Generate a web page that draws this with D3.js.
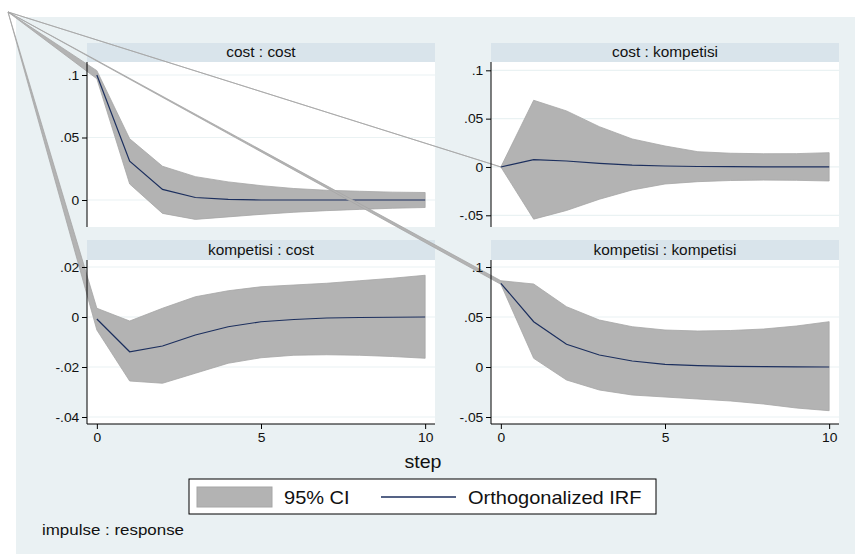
<!DOCTYPE html>
<html>
<head>
<meta charset="utf-8">
<script src="https://cdn.jsdelivr.net/npm/d3@7"></script>
<style>
	body{margin:0;background:#fff;}
	svg{display:block;font-family:'Liberation Sans',Arial,sans-serif;}
</style>
</head>
<body>
<svg id="chart" width="855" height="554"></svg>
<script>
// impulse response values, steps 0..10
const steps = [0,1,2,3,4,5,6,7,8,9,10]

const costCostIrf   = [0.1, 0.031, 0.0085, 0.002, 0.0005, 0, 0, 0, 0, 0, 0]
const costCostLo    = [0.097, 0.0128, -0.0107, -0.0155, -0.0135, -0.0115, -0.0098, -0.0085, -0.0075, -0.0066, -0.006]
const costCostHi    = [0.1035, 0.049, 0.027, 0.0187, 0.0145, 0.0115, 0.0092, 0.0078, 0.007, 0.0063, 0.006]

const costKompIrf   = [0, 0.0076, 0.0062, 0.0038, 0.002, 0.001, 0.0005, 0.0003, 0, 0, 0]
const costKompLo    = [0, -0.054, -0.045, -0.0334, -0.0238, -0.0176, -0.0152, -0.014, -0.0136, -0.0138, -0.0145]
const costKompHi    = [0, 0.069, 0.058, 0.0417, 0.029, 0.0217, 0.0158, 0.0142, 0.0137, 0.0138, 0.0148]

const kompCostIrf   = [-0.0008, -0.0139, -0.0116, -0.0072, -0.0039, -0.0019, -0.001, -0.0004, -0.0002, -0.0001, 0]
const kompCostLo    = [-0.0052, -0.0256, -0.0265, -0.0225, -0.0185, -0.0163, -0.0153, -0.0151, -0.0153, -0.0158, -0.0165]
const kompCostHi    = [0.0035, -0.0016, 0.0035, 0.0081, 0.0105, 0.0121, 0.0128, 0.0135, 0.0145, 0.0155, 0.0167]

const kompKompIrf   = [0.0837, 0.0453, 0.0227, 0.012, 0.006, 0.0027, 0.0013, 0.0006, 0.0003, 0.0001, 0]
const kompKompLo    = [0.0827, 0.0087, -0.013, -0.023, -0.028, -0.03, -0.032, -0.034, -0.037, -0.041, -0.0437]
const kompKompHi    = [0.0863, 0.083, 0.0603, 0.047, 0.0403, 0.037, 0.036, 0.0365, 0.038, 0.041, 0.0453]

const panelTitles = ['cost : cost','cost : kompetisi','kompetisi : cost','kompetisi : kompetisi']
const yTicks = [
	[0, 0.05, 0.1],
	[-0.05, 0, 0.05, 0.1],
	[-0.04, -0.02, 0, 0.02],
	[-0.05, 0, 0.05, 0.1]
]
const yDomains = [
	[-0.0216, 0.1104],
	[-0.0621, 0.1086],
	[-0.0428, 0.0228],
	[-0.057, 0.107]
]
const xTicks = [0, 5, 10]
const legendLabels = ['95% CI','Orthogonalized IRF']

const colors = {
	outer:'#eaf1f3',
	strip:'#d9e4eb',
	grid:'#eaf2f3',
	band:'#b3b3b3',
	bandEdge:'#a6a6a6',
	irf:'#1c2f5e'
}

// the source picture is a little wider than stata drew it
const stretch = 1.1

// stata draws every band polygon starting from the corner of the graph
const strayOrigin = [8, 12]

const panelBoxes = [
	{left:87, right:435, stripTop:43, top:62, bottom:227, xAxis:false},
	{left:491, right:839, stripTop:43, top:62, bottom:227, xAxis:false},
	{left:87, right:435, stripTop:240, top:260, bottom:424, xAxis:true},
	{left:491, right:839, stripTop:240, top:260, bottom:424, xAxis:true}
]

const series = [
	{irf:costCostIrf, lo:costCostLo, hi:costCostHi},
	{irf:costKompIrf, lo:costKompLo, hi:costKompHi},
	{irf:kompCostIrf, lo:kompCostLo, hi:kompCostHi},
	{irf:kompKompIrf, lo:kompKompLo, hi:kompKompHi}
]

const fmt = (v)=>{
	if(v == 0) return '0'
	let s = (+v.toFixed(4)).toString()
	return s.replace(/^(-?)0\./,'$1.')
}

const label = (parent, txt, x, y, size, anchor)=>{
	return parent.append('text')
		.text(txt)
		.attr('transform',`translate(${x},${y}) scale(${stretch},1)`)
		.attr('text-anchor',anchor || 'start')
		.attr('font-size',`${size}px`)
		.attr('fill','#111')
}

const svg = d3.select('#chart')

svg.append('rect')
	.attr('x',16).attr('y',17)
	.attr('width',855 - 16).attr('height',554 - 17)
	.attr('fill',colors.outer)

panelBoxes.forEach((b, i)=>{
	let d = series[i]
	let g = svg.append('g').classed('panel',true)

	const x = d3.scaleLinear().domain([-0.3, 10.3]).range([b.left, b.right])
	const y = d3.scaleLinear().domain(yDomains[i]).range([b.bottom, b.top])

	// plot region + title strip
	g.append('rect')
		.attr('x',b.left).attr('y',b.top)
		.attr('width',b.right - b.left).attr('height',b.bottom - b.top)
		.attr('fill','#fff')

	g.append('rect')
		.attr('x',b.left).attr('y',b.stripTop)
		.attr('width',b.right - b.left).attr('height',b.top - b.stripTop)
		.attr('fill',colors.strip)

	label(g, panelTitles[i], (b.left + b.right) / 2, b.top - 5, 14, 'middle')

	g.selectAll('.grid')
		.data(yTicks[i])
		.enter()
		.append('line')
		.attr('x1',b.left).attr('x2',b.right)
		.attr('y1',v => y(v)).attr('y2',v => y(v))
		.attr('stroke',colors.grid)
		.attr('stroke-width',1.2)

	// CI band, closed back to the stray corner point
	let upper = steps.map((s, k) => [x(s), y(d.hi[k])])
	let lower = steps.map((s, k) => [x(s), y(d.lo[k])]).reverse()
	let pts = [strayOrigin].concat(upper, lower)

	g.append('path')
		.attr('d', d3.line()(pts) + 'Z')
		.attr('fill',colors.band)
		.attr('stroke',colors.bandEdge)
		.attr('stroke-width',0.8)
		.attr('stroke-linejoin','round')

	g.append('path')
		.attr('d', d3.line().x(s => x(s)).y((s, k) => y(d.irf[k]))(steps))
		.attr('fill','none')
		.attr('stroke',colors.irf)
		.attr('stroke-width',1.2)

	const axisY = g.append('g')
		.attr('transform',`translate(${b.left},0)`)
		.call(d3.axisLeft(y).tickValues(yTicks[i]).tickFormat(fmt).tickSize(5).tickSizeOuter(0).tickPadding(2))
	axisY.select('.domain').attr('d',`M0,${b.top}V${b.bottom}`).attr('stroke','#000')
	axisY.selectAll('text')
		.attr('font-size','12.6px')
		.attr('font-family','Liberation Sans, Arial, sans-serif')
		.attr('fill','#111')
		.attr('transform',`scale(${stretch},1)`)

	if(b.xAxis){
		const axisX = g.append('g')
			.attr('transform',`translate(0,${b.bottom})`)
			.call(d3.axisBottom(x).tickValues(xTicks).tickSize(5).tickSizeOuter(0).tickPadding(4))
		axisX.select('.domain').attr('d',`M${b.left},0H${b.right}`).attr('stroke','#000')
		axisX.selectAll('text')
			.attr('font-size','12.6px')
			.attr('font-family','Liberation Sans, Arial, sans-serif')
			.attr('fill','#111')
			.attr('transform',`scale(${stretch},1)`)
	}
})

label(svg, 'step', 423, 468, 17.8, 'middle')

// legend
const legend = svg.append('g')
legend.append('rect')
	.attr('x',189).attr('y',479).attr('width',467).attr('height',35)
	.attr('fill','#fff').attr('stroke','#000').attr('stroke-width',1)
legend.append('rect')
	.attr('x',197).attr('y',487).attr('width',75).attr('height',20)
	.attr('fill',colors.band).attr('stroke',colors.bandEdge).attr('stroke-width',1)
label(legend, legendLabels[0], 284, 504, 18.2)
legend.append('line')
	.attr('x1',381).attr('x2',456).attr('y1',497).attr('y2',497)
	.attr('stroke',colors.irf).attr('stroke-width',1.5)
label(legend, legendLabels[1], 468, 504, 18.2)

label(svg, 'impulse : response', 42, 535, 15.4)
</script>
</body>
</html>
